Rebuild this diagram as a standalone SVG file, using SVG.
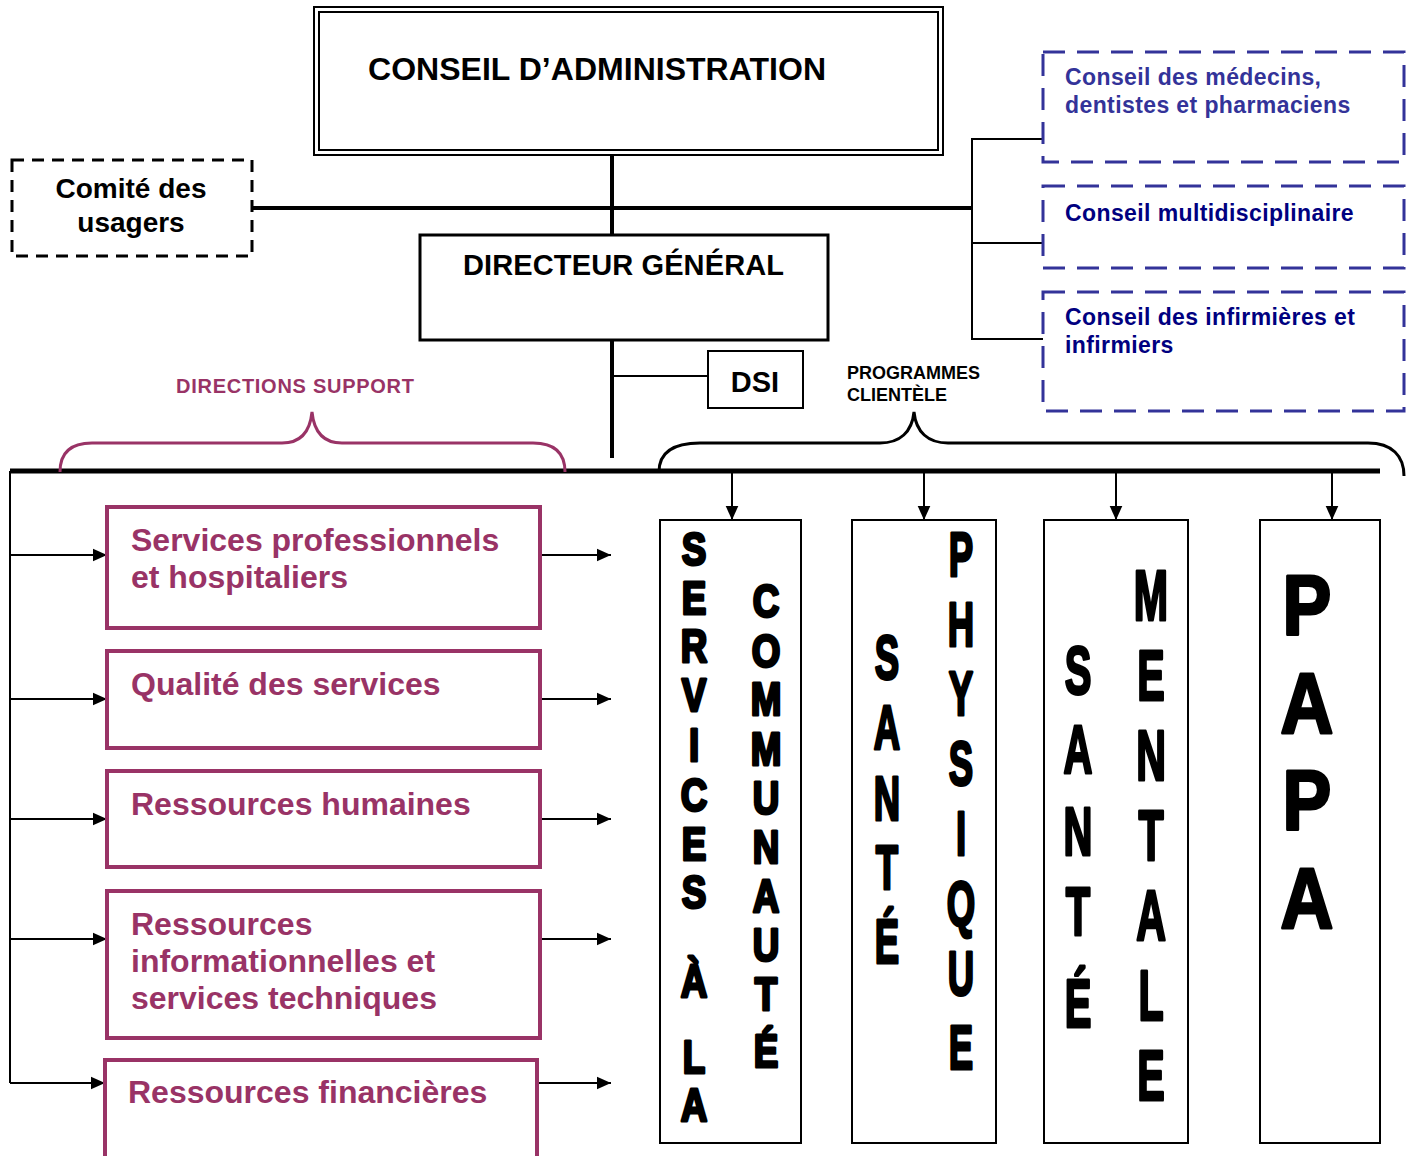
<svg xmlns="http://www.w3.org/2000/svg" width="1411" height="1156" viewBox="0 0 1411 1156">
  <style>
    .t { font-family: "Liberation Sans", Arial, sans-serif; font-weight: bold; }
    .blk { fill: #000; }
    .mag { fill: #993366; }
    .blu1 { fill: #333399; }
    .blu2 { fill: #000080; }
    .box { fill: #fff; stroke: #000; }
    .magbox { fill: #fff; stroke: #993366; stroke-width: 4; }
    .bluebox { fill: none; stroke: #333399; stroke-width: 3; stroke-dasharray: 22 12; }
    .thin { stroke: #000; stroke-width: 2; fill: none; }
    .thick { stroke: #000; stroke-width: 4; fill: none; }
    .vert { font-family: "Liberation Sans", Arial, sans-serif; font-weight: bold; fill: #000; stroke: #000; stroke-width: 3; stroke-linejoin: round; text-anchor: middle; }
  </style>
  <defs>
    <marker id="arr" viewBox="0 0 10 10" refX="10" refY="5" markerWidth="14" markerHeight="14" orient="auto" markerUnits="userSpaceOnUse">
      <path d="M0,0.5 L10,5 L0,9.5 z" fill="#000"/>
    </marker>
  </defs>
  <rect width="1411" height="1156" fill="#fff"/>

  <!-- connectors -->
  <g id="connectors">
    <line class="thick" x1="612" y1="156" x2="612" y2="235"/>
    <line class="thick" x1="252" y1="208" x2="972" y2="208"/>
    <line class="thick" x1="612" y1="340" x2="612" y2="458"/>
    <line class="thin" x1="612" y1="376" x2="708" y2="376"/>
    <path class="thin" d="M1043,139 H972 V339 H1043 M972,243 H1043"/>
    <line stroke="#000" stroke-width="5" x1="10" y1="471" x2="1380" y2="471"/>
    <path class="thin" d="M10,471 V1083"/>
    <g stroke="#000" stroke-width="2" marker-end="url(#arr)">
      <line x1="10" y1="555" x2="107" y2="555"/>
      <line x1="10" y1="699" x2="107" y2="699"/>
      <line x1="10" y1="819" x2="107" y2="819"/>
      <line x1="10" y1="939" x2="107" y2="939"/>
      <line x1="10" y1="1083" x2="105" y2="1083"/>
      <line x1="540" y1="555" x2="611" y2="555"/>
      <line x1="540" y1="699" x2="611" y2="699"/>
      <line x1="540" y1="819" x2="611" y2="819"/>
      <line x1="540" y1="939" x2="611" y2="939"/>
      <line x1="537" y1="1083" x2="611" y2="1083"/>
      <line x1="732" y1="471" x2="732" y2="520"/>
      <line x1="924" y1="471" x2="924" y2="520"/>
      <line x1="1116" y1="471" x2="1116" y2="520"/>
      <line x1="1332" y1="471" x2="1332" y2="520"/>
    </g>
    <!-- braces -->
    <path d="M60,472 C60,451 72,443 92,443 L282,443 C300,443 310,432 312,412 C314,432 324,443 342,443 L533,443 C553,443 565,451 565,472" fill="none" stroke="#993366" stroke-width="3"/>
    <path d="M659,472 C659,452 674,443 700,443 L880,443 C900,443 912,432 914,412 C916,432 928,443 948,443 L1368,443 C1392,443 1404,456 1404,476" fill="none" stroke="#000" stroke-width="3"/>
  </g>

  <!-- top governance -->
  <g id="conseil-administration">
    <rect class="box" x="314" y="7" width="629" height="148" stroke-width="2"/>
    <rect fill="none" stroke="#000" stroke-width="2" x="319" y="12" width="619" height="138"/>
    <text class="t blk" x="368" y="80" font-size="32" textLength="458">CONSEIL D’ADMINISTRATION</text>
  </g>

  <g id="comite-usagers">
    <rect x="12" y="160" width="240" height="96" fill="#fff" stroke="#000" stroke-width="3" stroke-dasharray="12 8"/>
    <text class="t blk" x="131" y="198" font-size="28" text-anchor="middle">Comité des</text>
    <text class="t blk" x="131" y="232" font-size="28" text-anchor="middle">usagers</text>
  </g>

  <g id="directeur-general">
    <rect class="box" x="420" y="235" width="408" height="105" stroke-width="3"/>
    <text class="t blk" x="463" y="275" font-size="29" textLength="321">DIRECTEUR GÉNÉRAL</text>
  </g>

  <g id="dsi">
    <rect class="box" x="708" y="351" width="95" height="57" stroke-width="2"/>
    <text class="t blk" x="755" y="392" font-size="29" text-anchor="middle">DSI</text>
  </g>

  <g id="conseil-medecins">
    <rect class="bluebox" x="1043" y="52" width="361" height="110"/>
    <text class="t blu1" font-size="23" letter-spacing="0.4"><tspan x="1065" y="85">Conseil des médecins,</tspan><tspan x="1065" y="113">dentistes et pharmaciens</tspan></text>
  </g>
  <g id="conseil-multidisciplinaire">
    <rect class="bluebox" x="1043" y="186" width="361" height="82"/>
    <text class="t blu2" x="1065" y="221" font-size="23" letter-spacing="0.4">Conseil multidisciplinaire</text>
  </g>
  <g id="conseil-infirmieres">
    <rect class="bluebox" x="1043" y="292" width="361" height="119"/>
    <text class="t blu2" font-size="23" letter-spacing="0.4"><tspan x="1065" y="325">Conseil des infirmières et</tspan><tspan x="1065" y="353">infirmiers</tspan></text>
  </g>

  <!-- group labels -->
  <text id="label-directions-support" class="t mag" x="176" y="393" font-size="20" textLength="238">DIRECTIONS SUPPORT</text>
  <text id="label-programmes" class="t blk" font-size="18"><tspan x="847" y="379">PROGRAMMES</tspan><tspan x="847" y="401">CLIENTÈLE</tspan></text>

  <!-- support directorates -->
  <g id="services-professionnels">
    <rect class="magbox" x="107" y="507" width="433" height="121"/>
    <text class="t mag" font-size="32"><tspan x="131" y="551">Services professionnels</tspan><tspan x="131" y="588">et hospitaliers</tspan></text>
  </g>
  <g id="qualite-services">
    <rect class="magbox" x="107" y="651" width="433" height="97"/>
    <text class="t mag" x="131" y="695" font-size="32">Qualité des services</text>
  </g>
  <g id="ressources-humaines">
    <rect class="magbox" x="107" y="771" width="433" height="96"/>
    <text class="t mag" x="131" y="815" font-size="32">Ressources humaines</text>
  </g>
  <g id="ressources-informationnelles">
    <rect class="magbox" x="107" y="891" width="433" height="147"/>
    <text class="t mag" font-size="32"><tspan x="131" y="935">Ressources</tspan><tspan x="131" y="972">informationnelles et</tspan><tspan x="131" y="1009">services techniques</tspan></text>
  </g>
  <g id="ressources-financieres">
    <rect class="magbox" x="105" y="1060" width="432" height="100"/>
    <text class="t mag" x="128" y="1103" font-size="32">Ressources financières</text>
  </g>

  <!-- client programmes -->
  <g id="services-communaute">
    <rect class="box" x="660" y="520" width="141" height="623" stroke-width="2"/>
    <text class="vert" font-size="46" transform="translate(694,0) scale(0.8,1)">
      <tspan x="0" y="565">S</tspan><tspan x="0" y="614">E</tspan><tspan x="0" y="662">R</tspan><tspan x="0" y="711">V</tspan><tspan x="0" y="761">I</tspan><tspan x="0" y="811">C</tspan><tspan x="0" y="860">E</tspan><tspan x="0" y="908">S</tspan><tspan x="0" y="997">À</tspan><tspan x="0" y="1073">L</tspan><tspan x="0" y="1121">A</tspan>
    </text>
    <text class="vert" font-size="46" transform="translate(766,0) scale(0.8,1)">
      <tspan x="0" y="617">C</tspan><tspan x="0" y="667">O</tspan><tspan x="0" y="715">M</tspan><tspan x="0" y="765">M</tspan><tspan x="0" y="814">U</tspan><tspan x="0" y="863">N</tspan><tspan x="0" y="912">A</tspan><tspan x="0" y="961">U</tspan><tspan x="0" y="1010">T</tspan><tspan x="0" y="1067">É</tspan>
    </text>
  </g>
  <g id="sante-physique">
    <rect class="box" x="852" y="520" width="144" height="623" stroke-width="2"/>
    <text class="vert" font-size="63" transform="translate(887,0) scale(0.58,1)">
      <tspan x="0" y="679">S</tspan><tspan x="0" y="749">A</tspan><tspan x="0" y="820">N</tspan><tspan x="0" y="889">T</tspan><tspan x="0" y="963">É</tspan>
    </text>
    <text class="vert" font-size="63" transform="translate(961,0) scale(0.58,1)">
      <tspan x="0" y="576">P</tspan><tspan x="0" y="646">H</tspan><tspan x="0" y="715">Y</tspan><tspan x="0" y="785">S</tspan><tspan x="0" y="855">I</tspan><tspan x="0" y="925">Q</tspan><tspan x="0" y="995">U</tspan><tspan x="0" y="1069">E</tspan>
    </text>
  </g>
  <g id="sante-mentale">
    <rect class="box" x="1044" y="520" width="144" height="623" stroke-width="2"/>
    <text class="vert" font-size="69" transform="translate(1078,0) scale(0.58,1)">
      <tspan x="0" y="694">S</tspan><tspan x="0" y="773">A</tspan><tspan x="0" y="855">N</tspan><tspan x="0" y="935">T</tspan><tspan x="0" y="1027">É</tspan>
    </text>
    <text class="vert" font-size="71" transform="translate(1151,0) scale(0.58,1)">
      <tspan x="0" y="620">M</tspan><tspan x="0" y="700">E</tspan><tspan x="0" y="780">N</tspan><tspan x="0" y="860">T</tspan><tspan x="0" y="940">A</tspan><tspan x="0" y="1020">L</tspan><tspan x="0" y="1100">E</tspan>
    </text>
  </g>
  <g id="papa">
    <rect class="box" x="1260" y="520" width="120" height="623" stroke-width="2"/>
    <text class="vert" font-size="85" transform="translate(1307,0) scale(0.86,1)">
      <tspan x="0" y="635">P</tspan><tspan x="0" y="733">A</tspan><tspan x="0" y="830">P</tspan><tspan x="0" y="928">A</tspan>
    </text>
  </g>
</svg>
